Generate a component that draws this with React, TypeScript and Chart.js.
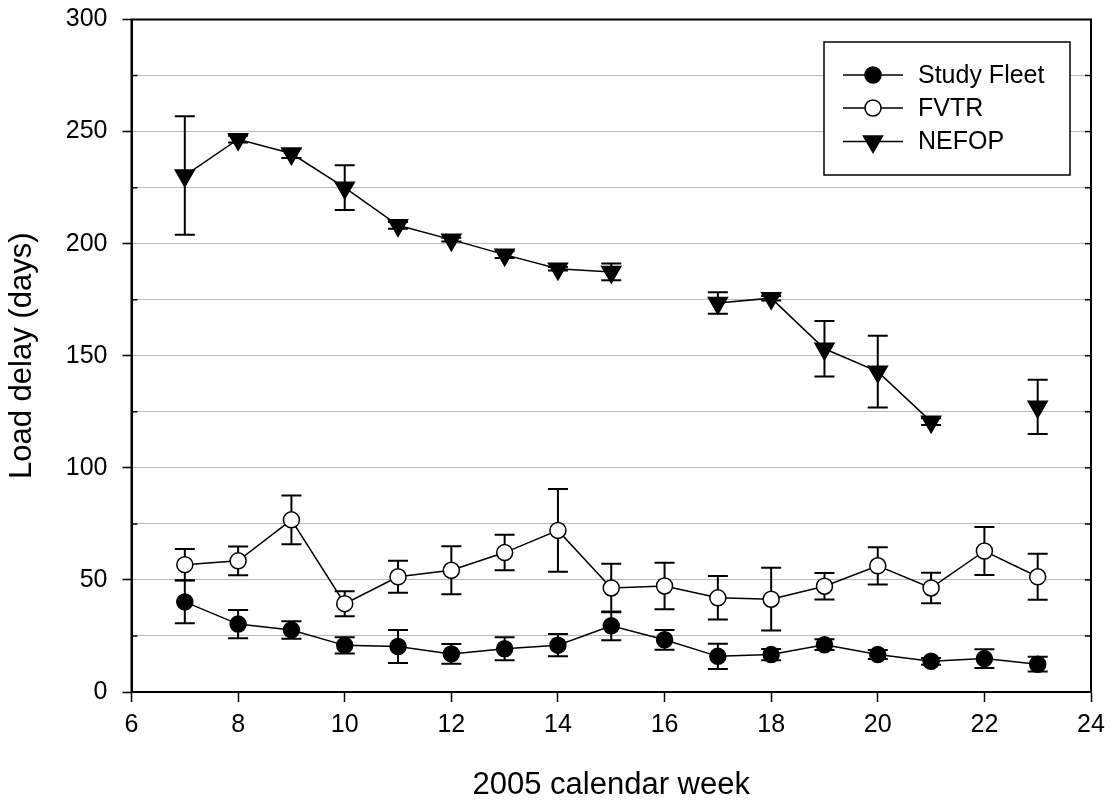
import React, { useEffect, useRef } from "react";
import { Chart, registerables } from "chart.js";

Chart.register(...registerables);

const weeks = [7, 8, 9, 10, 11, 12, 13, 14, 15, 16, 17, 18, 19, 20, 21, 22, 23];

const studyFleet = [40.2, 30.3, 27.7, 20.8, 20.3, 17.0, 19.3, 20.9, 29.5, 23.3, 15.9, 16.7, 21.1, 16.7, 13.7, 14.9, 12.4];
const studyFleetErr = [9.5, 6.3, 3.9, 3.6, 7.4, 4.4, 5.1, 5.0, 6.4, 4.4, 5.6, 2.5, 2.4, 2.0, 1.5, 4.2, 3.3];

const fvtr = [56.8, 58.5, 76.8, 39.4, 51.4, 54.3, 62.2, 72.1, 46.4, 47.3, 42.0, 41.4, 47.2, 56.3, 46.4, 62.9, 51.4];
const fvtrErr = [7.0, 6.4, 10.9, 5.6, 7.1, 10.7, 7.9, 18.5, 10.8, 10.4, 9.7, 14.0, 5.9, 8.3, 6.8, 10.7, 10.3];

const nefop = [230.4, 246.6, 240.2, 225.0, 208.2, 201.8, 195.1, 188.8, 187.4, null, 173.5, 175.7, 153.1, 142.9, 120.6, null, 127.2];
const nefopErr = [26.4, 1.5, 2.0, 10.0, 1.5, 0.8, 1.5, 0.8, 3.7, 0, 4.8, 1.0, 12.4, 16.0, 1.5, 0, 12.1];

const seriesNames = ["Study Fleet", "FVTR", "NEFOP"];
const xTitle = "2005 calendar week";
const yTitle = "Load delay (days)";

const FONT = "'Liberation Sans', Arial, Helvetica, sans-serif";

const toPoints = (vals: (number | null)[]) =>
  weeks.map((w, i) => ({ x: w, y: vals[i] }));

const errorBarPlugin = {
  id: "errorBars",
  beforeDatasetsDraw(chart: any) {
    const { ctx } = chart;
    const xs = chart.scales.x;
    const ys = chart.scales.y;
    ctx.save();
    ctx.strokeStyle = "#000";
    ctx.lineWidth = 2;
    chart.data.datasets.forEach((ds: any) => {
      const errs: number[] = ds.errors || [];
      ds.data.forEach((p: any, i: number) => {
        if (p.y === null || p.y === undefined) return;
        const e = errs[i];
        if (!e) return;
        const x = xs.getPixelForValue(p.x);
        const yt = ys.getPixelForValue(p.y + e);
        const yb = ys.getPixelForValue(p.y - e);
        const hw = 10;
        ctx.beginPath();
        ctx.moveTo(x, yt);
        ctx.lineTo(x, yb);
        ctx.moveTo(x - hw, yt);
        ctx.lineTo(x + hw, yt);
        ctx.moveTo(x - hw, yb);
        ctx.lineTo(x + hw, yb);
        ctx.stroke();
      });
    });
    ctx.restore();
  },
};

const frameAndLegendPlugin = {
  id: "frameLegend",
  afterDraw(chart: any) {
    const { ctx, chartArea } = chart;
    const { left, right, top, bottom } = chartArea;
    const ys = chart.scales.y;
    ctx.save();
    ctx.strokeStyle = "#000";
    ctx.lineWidth = 2;
    ctx.strokeRect(left, top, right - left, bottom - top);
    ctx.lineWidth = 1.5;
    for (let v = 25; v < 300; v += 25) {
      const y = ys.getPixelForValue(v);
      ctx.beginPath();
      if (v % 50 !== 0) {
        ctx.moveTo(left, y);
        ctx.lineTo(left + 6, y);
      }
      ctx.moveTo(right, y);
      ctx.lineTo(right - 6, y);
      ctx.stroke();
    }
    const bx = 824, by = 42, bw = 246, bh = 133;
    ctx.fillStyle = "#fff";
    ctx.fillRect(bx, by, bw, bh);
    ctx.lineWidth = 1.5;
    ctx.strokeStyle = "#000";
    ctx.strokeRect(bx, by, bw, bh);
    const rowY = [75, 108, 141.5];
    chart.data.datasets.forEach((ds: any, i: number) => {
      const y = rowY[i];
      ctx.beginPath();
      ctx.lineWidth = 1.5;
      ctx.moveTo(843, y);
      ctx.lineTo(903, y);
      ctx.stroke();
      const cx = 873;
      ctx.beginPath();
      if (ds.pointStyle === "triangle") {
        const r = 11;
        ctx.moveTo(cx, y + r);
        ctx.lineTo(cx - r * 0.866, y - r / 2);
        ctx.lineTo(cx + r * 0.866, y - r / 2);
        ctx.closePath();
      } else {
        ctx.arc(cx, y, 8, 0, Math.PI * 2);
      }
      ctx.fillStyle = ds.pointBackgroundColor;
      ctx.fill();
      ctx.lineWidth = 1.5;
      ctx.stroke();
      ctx.fillStyle = "#000";
      ctx.font = `25px ${FONT}`;
      ctx.textBaseline = "middle";
      ctx.textAlign = "left";
      ctx.fillText(ds.label, 918, y + 1);
    });
    ctx.restore();
  },
};

export default function App() {
  const ref = useRef<HTMLCanvasElement | null>(null);

  useEffect(() => {
    if (!ref.current) return;
    const common = {
      borderColor: "#000",
      borderWidth: 1.5,
      tension: 0,
      spanGaps: false,
      showLine: true,
      pointBorderColor: "#000",
      pointBorderWidth: 1.5,
    };
    const chart = new Chart(ref.current, {
      type: "scatter",
      data: {
        datasets: [
          {
            ...common,
            label: seriesNames[0],
            data: toPoints(studyFleet),
            errors: studyFleetErr,
            pointStyle: "circle",
            pointRadius: 8,
            pointBackgroundColor: "#000",
          } as any,
          {
            ...common,
            label: seriesNames[1],
            data: toPoints(fvtr),
            errors: fvtrErr,
            pointStyle: "circle",
            pointRadius: 8,
            pointBackgroundColor: "#fff",
          } as any,
          {
            ...common,
            label: seriesNames[2],
            data: toPoints(nefop),
            errors: nefopErr,
            pointStyle: "triangle",
            pointRotation: 180,
            pointRadius: 11,
            pointBackgroundColor: "#000",
          } as any,
        ],
      },
      options: {
        responsive: false,
        animation: false,
        devicePixelRatio: 1,
        layout: { padding: { top: 19.5, right: 20, left: 0, bottom: 0 } },
        plugins: {
          legend: { display: false },
          tooltip: { enabled: false },
        },
        scales: {
          x: {
            type: "linear",
            min: 6,
            max: 24,
            afterFit: (s: any) => {
              s.height = 112;
              s.paddingLeft = 0;
              s.paddingRight = 0;
            },
            ticks: {
              stepSize: 2,
              color: "#000",
              padding: 8,
              font: { family: FONT, size: 25 },
              maxRotation: 0,
            },
            grid: {
              drawOnChartArea: false,
              drawTicks: true,
              tickLength: 10,
              tickColor: "#000",
              tickWidth: 1.5,
            },
            border: { display: true, color: "#000", width: 2 },
            title: {
              display: true,
              text: xTitle,
              color: "#000",
              font: { family: FONT, size: 31 },
              padding: { top: 0, bottom: 0 },
            },
          },
          y: {
            type: "linear",
            min: 0,
            max: 300,
            afterFit: (s: any) => {
              s.width = 131.5;
              s.paddingTop = 0;
              s.paddingBottom = 0;
            },
            ticks: {
              stepSize: 25,
              color: "#000",
              padding: 15,
              font: { family: FONT, size: 25 },
              callback: (v: any) => (Number(v) % 50 === 0 ? String(v) : ""),
            },
            grid: {
              color: "#b9b9b9",
              lineWidth: 1,
              drawTicks: true,
              tickLength: 9,
              tickWidth: 1.5,
              tickColor: (c: any) =>
                c.tick && Number(c.tick.value) % 50 === 0 ? "#000" : "rgba(0,0,0,0)",
            },
            border: { display: true, color: "#000", width: 2 },
            title: {
              display: true,
              text: yTitle,
              color: "#000",
              font: { family: FONT, size: 31 },
              padding: { top: 4, bottom: 0 },
            },
          },
        },
      } as any,
      plugins: [errorBarPlugin, frameAndLegendPlugin],
    });
    return () => chart.destroy();
  }, []);

  return (
    <div style={{ position: "fixed", left: 0, top: 0, width: 1111, height: 804, background: "#fff" }}>
      <canvas ref={ref} width={1111} height={804} style={{ width: 1111, height: 804, display: "block" }} />
    </div>
  );
}
